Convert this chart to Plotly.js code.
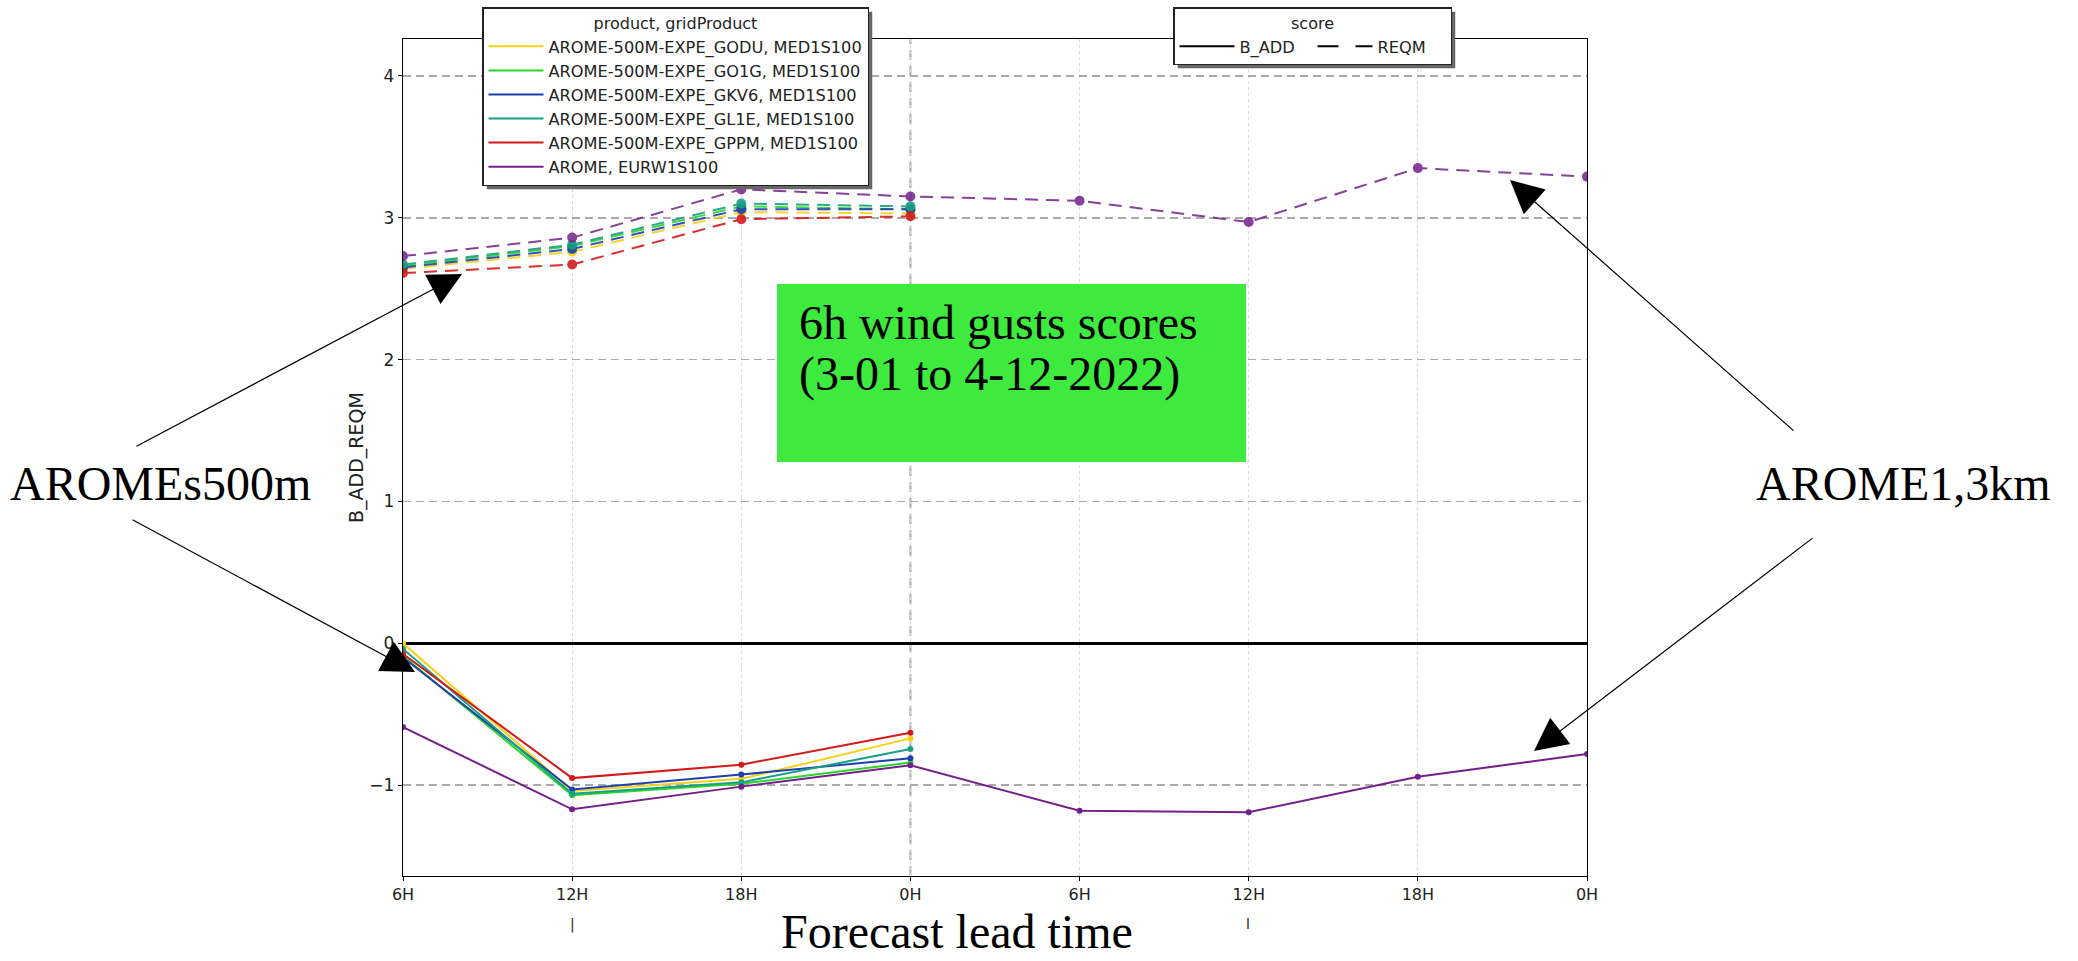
<!DOCTYPE html>
<html>
<head>
<meta charset="utf-8">
<script src="https://cdn.plot.ly/plotly-3.0.1.min.js"></script>
<style>html,body{margin:0;padding:0;background:#fff;}#chart{width:2078px;height:961px;}</style>
</head>
<body>
<div id="chart"></div>
<script>
// ---- data ----
const leadTimes = [6, 12, 18, 24, 30, 36, 42, 48];
const tickLabels = ["6H", "12H", "18H", "0H", "6H", "12H", "18H", "0H"];
const productNames = [
  "AROME-500M-EXPE_GODU, MED1S100",
  "AROME-500M-EXPE_GO1G, MED1S100",
  "AROME-500M-EXPE_GKV6, MED1S100",
  "AROME-500M-EXPE_GL1E, MED1S100",
  "AROME-500M-EXPE_GPPM, MED1S100",
  "AROME, EURW1S100"
];
const productColors = ["#f5d21a", "#2bd62b", "#1f3fb0", "#17a085", "#d31a1a", "#74208a"];

// REQM (dashed)
const reqmGODU = [2.64, 2.76, 3.04, 3.03];
const reqmGO1G = [2.66, 2.80, 3.08, 3.06];
const reqmGKV6 = [2.65, 2.78, 3.06, 3.06];
const reqmGL1E = [2.67, 2.81, 3.10, 3.08];
const reqmGPPM = [2.61, 2.67, 2.99, 3.01];
const reqmAROME = [2.73, 2.86, 3.20, 3.15, 3.12, 2.97, 3.35, 3.29];

// B_ADD (solid)
const baddGODU = [0.00, -1.04, -0.955, -0.67];
const baddGO1G = [-0.09, -1.07, -0.99, -0.84];
const baddGKV6 = [-0.10, -1.03, -0.925, -0.81];
const baddGL1E = [-0.04, -1.06, -0.98, -0.745];
const baddGPPM = [-0.075, -0.95, -0.855, -0.63];
const baddAROME = [-0.59, -1.17, -1.01, -0.86, -1.18, -1.19, -0.94, -0.78];

const reqmSeries = [reqmGODU, reqmGO1G, reqmGKV6, reqmGL1E, reqmGPPM, reqmAROME];
const baddSeries = [baddGODU, baddGO1G, baddGKV6, baddGL1E, baddGPPM, baddAROME];

// ---- geometry helpers (pixel -> paper) ----
const W = 2078, H = 961;
const L = 403, R = 1587, T = 39, B = 876;
const px = x => (x - L) / (R - L);
const py = y => (B - y) / (B - T);

const traces = [];
baddSeries.forEach((s, i) => {
  traces.push({
    x: leadTimes.slice(0, s.length), y: s, type: "scatter", mode: "lines+markers",
    line: {color: productColors[i], width: 2, dash: "solid"},
    marker: {color: productColors[i], size: 6},
    showlegend: false, hoverinfo: "skip"
  });
});
reqmSeries.forEach((s, i) => {
  traces.push({
    x: leadTimes.slice(0, s.length), y: s, type: "scatter", mode: "lines+markers",
    line: {color: productColors[i], width: 2, dash: "13px,8px"},
    marker: {color: productColors[i], size: 10},
    opacity: i === 5 ? 0.85 : 0.9,
    showlegend: false, hoverinfo: "skip"
  });
});
productNames.forEach((n, i) => {
  traces.push({
    x: [null], y: [null], type: "scatter", mode: "lines", name: n,
    line: {color: productColors[i], width: 2}, legend: "legend", showlegend: true
  });
});
traces.push({x: [null], y: [null], type: "scatter", mode: "lines", name: "B_ADD",
  line: {color: "#000", width: 2, dash: "solid"}, legend: "legend2", showlegend: true});
traces.push({x: [null], y: [null], type: "scatter", mode: "lines", name: "REQM",
  line: {color: "#000", width: 2, dash: "21px,17px"}, legend: "legend2", showlegend: true});

const serif = "Liberation Serif, Times New Roman, serif";
const sans = "DejaVu Sans, sans-serif";

function arrow(tailX, tailY, tipX, tipY) {
  return {
    xref: "paper", yref: "paper", x: px(tipX), y: py(tipY),
    ax: tailX - tipX, ay: tailY - tipY, axref: "pixel", ayref: "pixel",
    text: "", showarrow: true, arrowhead: 2, arrowsize: 5.5, arrowwidth: 1.2,
    arrowcolor: "#000", standoff: 0, startstandoff: 0
  };
}
function label(text, x, y, size, anchor) {
  return {
    xref: "paper", yref: "paper", x: px(x), y: py(y), text: text, showarrow: false,
    xanchor: anchor || "center", yanchor: "middle",
    font: {family: serif, size: size, color: "#000"}
  };
}
function shadowRect(x0, y0, x1, y1) {
  return {type: "rect", xref: "paper", yref: "paper",
    x0: px(x0 + 4), x1: px(x1 + 4), y0: py(y1 + 4), y1: py(y0 + 4),
    fillcolor: "#666", line: {width: 0}, layer: "above"};
}

const baseShapes = [
  {type: "line", xref: "x", yref: "paper", x0: 24, x1: 24, y0: 0, y1: 1,
   line: {color: "#aaaaaa", width: 2, dash: "10px,6px"}, layer: "below"},
  {type: "rect", xref: "paper", yref: "paper", x0: px(777), x1: px(1246), y0: py(462), y1: py(284),
   fillcolor: "#3eea3e", line: {width: 0}, layer: "above"}
];
const staticShadows = [shadowRect(482, 7, 877, 181), shadowRect(1173, 7, 1449, 60)];

const layout = {
  width: W, height: H,
  paper_bgcolor: "#fff", plot_bgcolor: "#fff",
  margin: {l: L, r: W - R, t: T, b: H - B, pad: 0, autoexpand: false},
  font: {family: sans, color: "#222"},
  xaxis: {
    range: [6, 48], tickvals: leadTimes, ticktext: tickLabels,
    showgrid: true, gridcolor: "#d8d8d8", gridwidth: 1, griddash: "3px,3px",
    showline: true, linecolor: "#000", linewidth: 1.2, mirror: true,
    ticks: "outside", ticklen: 4, tickcolor: "#000",
    tickfont: {family: sans, size: 16, color: "#222"}, zeroline: false, automargin: false
  },
  yaxis: {
    range: [-1.64, 4.26], tickvals: [-1, 0, 1, 2, 3, 4],
    showgrid: true, gridcolor: "#aaaaaa", gridwidth: 1.5, griddash: "8px,5px",
    zeroline: true, zerolinecolor: "#000", zerolinewidth: 2.5,
    showline: true, linecolor: "#000", linewidth: 1.2, mirror: true,
    ticks: "outside", ticklen: 4, tickcolor: "#000",
    tickfont: {family: sans, size: 17, color: "#222"}, automargin: false,
    title: {text: "B_ADD_REQM", font: {family: sans, size: 19, color: "#222"}, standoff: 0}
  },
  legend: {
    x: px(482), y: py(7), xanchor: "left", yanchor: "top",
    bgcolor: "#fff", bordercolor: "#222", borderwidth: 1.5,
    font: {family: sans, size: 16.2, color: "#222"},
    title: {text: "product, gridProduct", side: "top center", font: {family: sans, size: 16, color: "#222"}},
    itemwidth: 55, tracegroupgap: 0, traceorder: "normal"
  },
  legend2: {
    x: px(1173), y: py(7), xanchor: "left", yanchor: "top", orientation: "h",
    bgcolor: "#fff", bordercolor: "#222", borderwidth: 1.5,
    font: {family: sans, size: 16.2, color: "#222"},
    title: {text: "score", side: "top center", font: {family: sans, size: 16, color: "#222"}},
    itemwidth: 55, entrywidth: 68
  },
  shapes: baseShapes.concat(staticShadows),
  annotations: [
    {xref: "paper", yref: "paper", x: px(797), y: py(322), text: "6h wind gusts scores", showarrow: false,
     xanchor: "left", yanchor: "middle", font: {family: serif, size: 48, color: "#000"}},
    {xref: "paper", yref: "paper", x: px(797), y: py(374), text: "(3-01 to 4-12-2022)", showarrow: false,
     xanchor: "left", yanchor: "middle", font: {family: serif, size: 48, color: "#000"}},
    label("AROMEs500m", 160, 483, 48),
    label("AROME1,3km", 1903, 483, 48),
    label("Forecast lead time", 957, 931, 48),
    {xref: "paper", yref: "paper", x: px(572), y: py(924), text: "|", showarrow: false,
     xanchor: "center", yanchor: "middle", font: {family: sans, size: 14, color: "#222"}},
    {xref: "paper", yref: "paper", x: px(1248), y: py(924), text: "l", showarrow: false,
     xanchor: "center", yanchor: "middle", font: {family: sans, size: 14, color: "#222"}},
    arrow(135, 447, 462, 274),
    arrow(131, 519, 415, 672),
    arrow(1795, 432, 1510, 180),
    arrow(1814, 537, 1534, 751)
  ]
};

Plotly.newPlot("chart", traces, layout, {staticPlot: true, displayModeBar: false}).then(gd => {
  try {
    const root = gd.getBoundingClientRect();
    const shadows = [];
    gd.querySelectorAll(".legend, .legend2").forEach(g => {
      const bg = g.querySelector("rect.bg");
      if (!bg) return;
      const r = bg.getBoundingClientRect();
      if (r.width < 5) return;
      shadows.push(shadowRect(r.left - root.left, r.top - root.top, r.right - root.left, r.bottom - root.top));
    });
    if (shadows.length === 2) Plotly.relayout(gd, {shapes: baseShapes.concat(shadows)});
  } catch (e) {}
});
</script>
</body>
</html>
